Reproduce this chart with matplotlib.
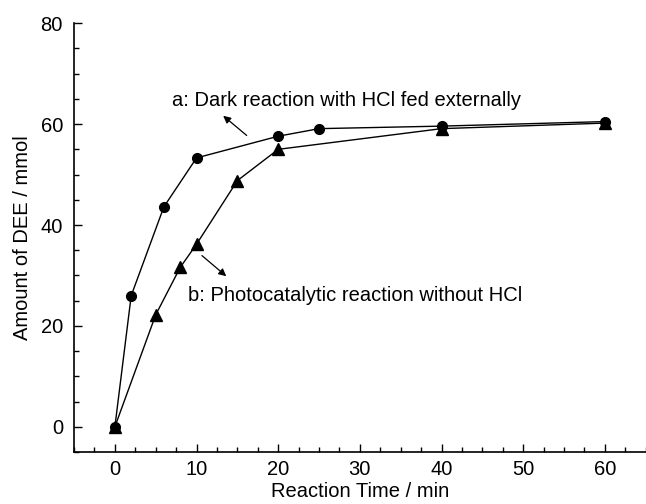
import matplotlib
matplotlib.use("Agg")
from matplotlib import pyplot as plt
from matplotlib.ticker import MultipleLocator

plt.rcParams['font.family'] = ['Liberation Sans', 'DejaVu Sans']

# series a: dark reaction with HCl fed externally
time_a = [0, 2, 6, 10, 20, 25, 40, 60]
dee_a = [0, 26.0, 43.6, 53.3, 57.6, 59.1, 59.6, 60.5]

# series b: photocatalytic reaction without HCl
time_b = [0, 5, 8, 10, 15, 20, 40, 60]
dee_b = [0, 22.2, 31.6, 36.2, 48.8, 55.0, 59.1, 60.2]

label_a = "a: Dark reaction with HCl fed externally"
label_b = "b: Photocatalytic reaction without HCl"

fs = 14.5

fig = plt.figure(figsize=(6.46, 5.04), dpi=100)
ax = fig.add_axes([0.1146, 0.103, 0.885, 0.851])

ax.plot(time_a, dee_a, color='black', lw=1.0, marker='o', ms=7, zorder=3)
ax.plot(time_b, dee_b, color='black', lw=1.0, marker='^', ms=9, zorder=3)

ax.set_xlim(-5, 65)
ax.set_ylim(-5, 80)
ax.xaxis.set_major_locator(MultipleLocator(10))
ax.xaxis.set_minor_locator(MultipleLocator(2.5))
ax.yaxis.set_major_locator(MultipleLocator(20))
ax.yaxis.set_minor_locator(MultipleLocator(5))
ax.tick_params(which='both', direction='in', labelsize=fs, width=1)
ax.tick_params(which='major', length=6)
ax.tick_params(which='minor', length=3.5)
ax.tick_params(axis='x', pad=6)
ax.tick_params(axis='y', pad=8)

for s in ['top', 'right']:
    ax.spines[s].set_visible(False)
for s in ['left', 'bottom']:
    ax.spines[s].set_linewidth(1.2)

ax.set_xlabel("Reaction Time / min", fontsize=fs, labelpad=2)
ax.set_ylabel("Amount of DEE / mmol", fontsize=fs, labelpad=6)

arrow = dict(arrowstyle='-|>', color='black', lw=0.9, mutation_scale=11)
ax.annotate("", xy=(13.0, 62.0), xytext=(16.4, 57.4), arrowprops=arrow)
ax.annotate("", xy=(13.9, 29.5), xytext=(10.4, 34.3), arrowprops=arrow)
ax.text(7.0, 64.7, label_a, fontsize=fs, va='center', ha='left')
ax.text(8.9, 26.1, label_b, fontsize=fs, va='center', ha='left')

fig.savefig("out.png", dpi=100)
